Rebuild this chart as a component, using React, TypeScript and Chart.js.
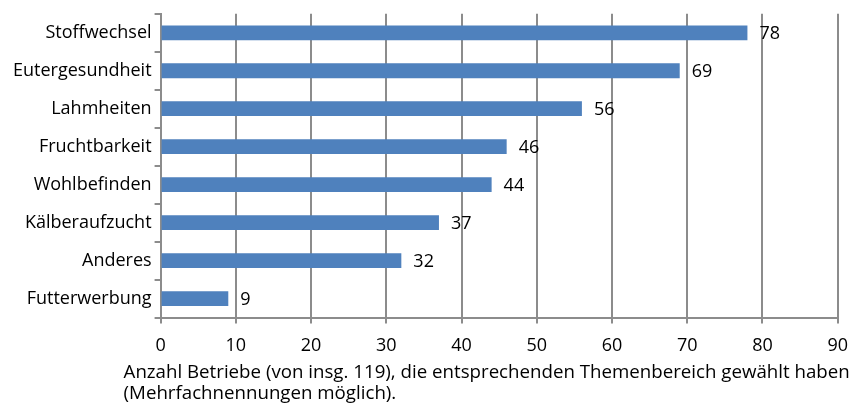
import React, { useEffect, useRef } from "react";
import { Chart, registerables } from "chart.js";

Chart.register(...registerables);

const categories = [
  "Stoffwechsel",
  "Eutergesundheit",
  "Lahmheiten",
  "Fruchtbarkeit",
  "Wohlbefinden",
  "Kälberaufzucht",
  "Anderes",
  "Futterwerbung",
];
const values = [78, 69, 56, 46, 44, 37, 32, 9];
const axisTitleLines = [
  "Anzahl Betriebe (von insg. 119), die entsprechenden Themenbereich gewählt haben",
  "(Mehrfachnennungen möglich).",
];
const xMin = 0;
const xMax = 90;
const xStep = 10;

const FONT = "'Open Sans', sans-serif";
const GRID = "#8c8c8c";
const BAR = "#4f81bd";

const valueLabels = {
  id: "valueLabels",
  afterDatasetsDraw(chart: any) {
    const ctx = chart.ctx;
    const meta = chart.getDatasetMeta(0);
    ctx.save();
    ctx.font = `18px ${FONT}`;
    ctx.fillStyle = "#000";
    ctx.textAlign = "left";
    ctx.textBaseline = "middle";
    meta.data.forEach((bar: any, i: number) => {
      ctx.fillText(String(values[i]), bar.x + 12, bar.y + 1);
    });
    ctx.restore();
  },
};

const bottomTitle = {
  id: "bottomTitle",
  afterDraw(chart: any) {
    const ctx = chart.ctx;
    const area = chart.chartArea;
    ctx.save();
    ctx.font = `18.7px ${FONT}`;
    ctx.fillStyle = "#000";
    ctx.textAlign = "left";
    ctx.textBaseline = "alphabetic";
    axisTitleLines.forEach((line, i) => {
      ctx.fillText(line, area.left - 37, area.bottom + 60 + i * 21.5);
    });
    ctx.restore();
  },
};

export default function App() {
  const ref = useRef<HTMLCanvasElement>(null);
  useEffect(() => {
    if (!ref.current) return;
    const chart = new Chart(ref.current, {
      type: "bar",
      data: {
        labels: categories,
        datasets: [
          {
            data: values,
            backgroundColor: BAR,
            borderWidth: 0,
            barPercentage: 0.39,
            categoryPercentage: 1,
          },
        ],
      },
      options: {
        indexAxis: "y",
        animation: false,
        responsive: true,
        maintainAspectRatio: false,
        layout: { padding: { left: 4, right: 0, top: 12, bottom: 37 } },
        plugins: {
          legend: { display: false },
          tooltip: { enabled: false },
          title: { display: false },
        },
        scales: {
          x: {
            min: xMin,
            max: xMax,
            ticks: {
              stepSize: xStep,
              color: "#000",
              font: { family: FONT, size: 18, lineHeight: 1.47 },
              padding: 9,
            },
            grid: { color: GRID, lineWidth: 2, tickLength: 6 },
            border: { color: GRID, width: 2 },
          },
          y: {
            ticks: {
              color: "#000",
              font: { family: FONT, size: 18 },
              padding: 3,
            },
            grid: {
              color: GRID,
              lineWidth: 2,
              tickLength: 6,
              drawOnChartArea: false,
              offset: true,
            },
            border: { color: GRID, width: 2 },
          },
        },
      },
      plugins: [valueLabels, bottomTitle],
    });
    return () => chart.destroy();
  }, []);
  return (
    <div style={{ position: "absolute", left: 6, top: 0, width: 851, height: 405 }}>
      <canvas ref={ref} />
    </div>
  );
}
